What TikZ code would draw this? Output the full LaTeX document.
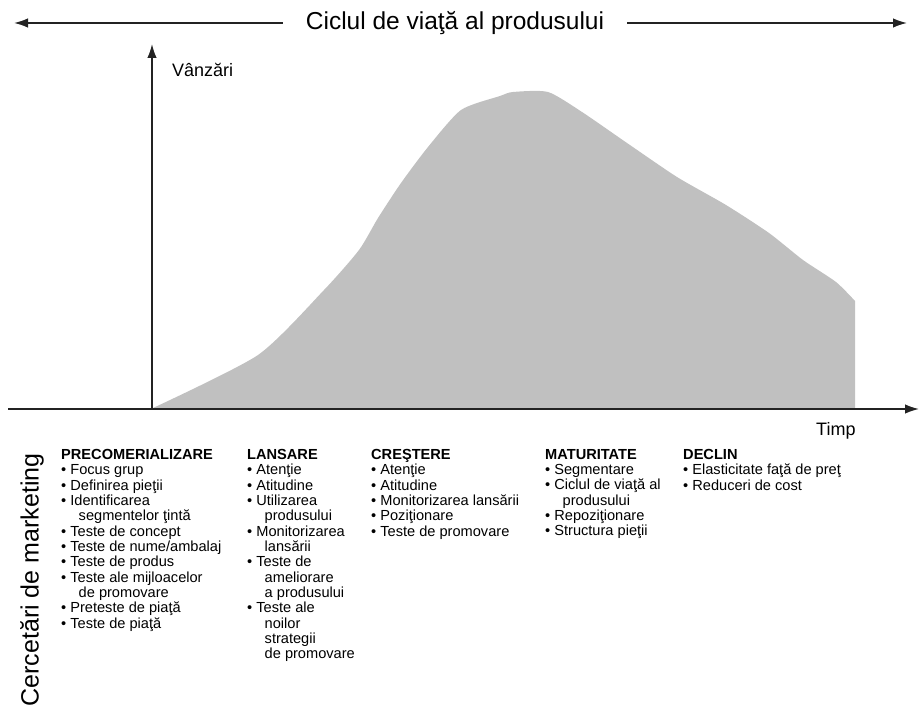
\documentclass[tikz,border=0pt]{standalone}
\usepackage{fontspec}
\setmainfont{Liberation Sans}
\usepackage{tikz}
\usetikzlibrary{shapes,arrows,arrows.meta}
\usetikzlibrary{calc}
\usetikzlibrary{positioning}

\definecolor{salesgray}{RGB}{192,192,192}
\definecolor{axisgray}{RGB}{35,35,35}

\newcommand{\bul}{\textbullet\ }
\newcommand{\ind}{\hspace*{1.2em}}

\begin{document}
\begin{tikzpicture}[x=1pt, y=-1pt,
	axis_line/.style={draw=axisgray, line width=1.6pt, -{Latex[length=14pt,width=9.5pt]}},
	phase_col/.style={anchor=north west, inner sep=0pt, align=left, font=\fontsize{14.6}{15.35}\selectfont},
	axis_label/.style={anchor=base west, inner sep=0pt, font=\fontsize{18}{20}\selectfont}]
				\useasboundingbox (0,0) rectangle (920,711);
				
				% curba vanzarilor
				\fill[salesgray] plot[smooth, tension=0.4] coordinates {(153,408) (258,355) (324,290) (359,250) (378,218) (401,183) (428,147) (461,110) (500,96) (513,92) (548,92) (582,112) (627,143) (677,177) (726,205) (769,233) (803,260) (836,282) (855,301)} -- (855,408) -- cycle;
				
				\coordinate (origin) at (152,409);
				\coordinate (y_end) at (152,44);
				\coordinate (x_start) at (8,409);
				\coordinate (x_end) at (919,409);
				\coordinate (left_end) at (14,23);
				\coordinate (right_end) at (907,23);
				
				\node[inner xsep=23pt, font=\fontsize{24.5}{26}\selectfont] (title) at (455,23) {Ciclul de viaţă al produsului};
				\node[axis_label] (sales) at (172,77) {Vânzări};
				\node[axis_label] (time) at (816,435) {Timp};
				
				\path[every edge/.style={axis_line}]
				(title) edge (left_end)
				(title) edge (right_end)
				(origin) edge (y_end)
				(x_start) edge (x_end);
				
				\node[rotate=90, font=\fontsize{25}{27}\selectfont] (research) at (32,580) {Cercetări de marketing};
				
				\node[phase_col] (1) at (61,449) {\textbf{PRECOMERIALIZARE}\\
					\bul Focus grup\\ \bul Definirea pieţii\\ \bul Identificarea\\ \ind segmentelor ţintă\\
					\bul Teste de concept\\ \bul Teste de nume/ambalaj\\ \bul Teste de produs\\
					\bul Teste ale mijloacelor\\ \ind de promovare\\ \bul Preteste de piaţă\\ \bul Teste de piaţă};
				\node[phase_col] (2) at (247,449) {\textbf{LANSARE}\\
					\bul Atenţie\\ \bul Atitudine\\ \bul Utilizarea\\ \ind produsului\\
					\bul Monitorizarea\\ \ind lansării\\ \bul Teste de\\ \ind ameliorare\\ \ind a produsului\\
					\bul Teste ale\\ \ind noilor\\ \ind strategii\\ \ind de promovare};
				\node[phase_col] (3) at (371,449) {\textbf{CREŞTERE}\\
					\bul Atenţie\\ \bul Atitudine\\ \bul Monitorizarea lansării\\ \bul Poziţionare\\ \bul Teste de promovare};
				\node[phase_col] (4) at (545,449) {\textbf{MATURITATE}\\
					\bul Segmentare\\ \bul Ciclul de viaţă al\\ \ind produsului\\ \bul Repoziţionare\\ \bul Structura pieţii};
				\node[phase_col] (5) at (683,449) {\textbf{DECLIN}\\
					\bul Elasticitate faţă de preţ\\ \bul Reduceri de cost};
			\end{tikzpicture}
\end{document}
